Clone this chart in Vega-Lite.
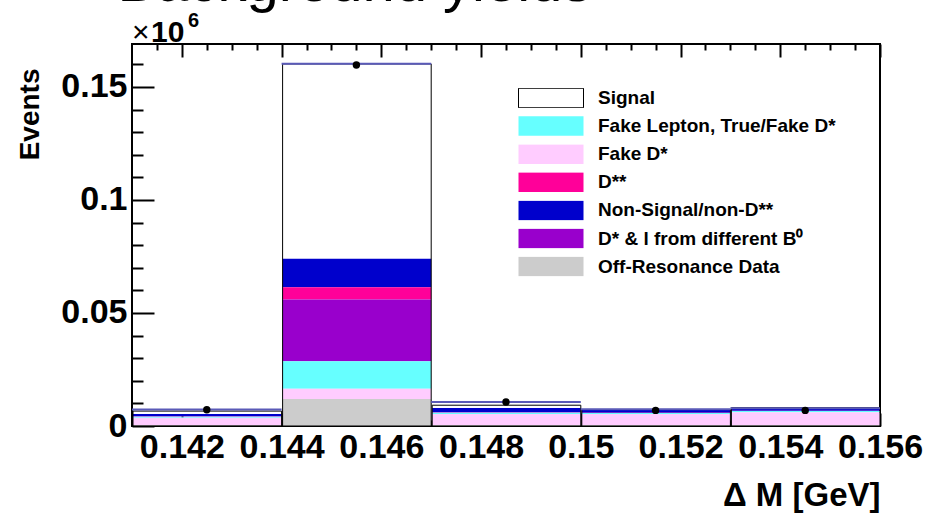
{
  "$schema": "https://vega.github.io/schema/vega-lite/v6.json",
  "width": 748,
  "height": 382,
  "autosize": "none",
  "padding": {"left": 132, "top": 44, "right": 48, "bottom": 88},
  "background": "white",
  "config": {
    "view": {"stroke": "black", "strokeWidth": 2},
    "font": "Liberation Sans",
    "axis": {"grid": false, "domain": false, "tickColor": "black", "tickWidth": 2, "labelColor": "black", "labelFont": "Liberation Sans", "labelFontWeight": "bold", "titleFont": "Liberation Sans", "titleFontWeight": "bold", "titleColor": "black"}
  },
  "datasets": {
    "hist": [
      {"lo": 0.141, "hi": 0.144, "comp": "Signal", "k": 7, "v": 0.0013},
      {"lo": 0.141, "hi": 0.144, "comp": "Non-Signal/non-D**", "k": 6, "v": 0.0010},
      {"lo": 0.141, "hi": 0.144, "comp": "D**", "k": 5, "v": 0.0001},
      {"lo": 0.141, "hi": 0.144, "comp": "D* & l from different B⁰", "k": 4, "v": 0.0001},
      {"lo": 0.141, "hi": 0.144, "comp": "Fake Lepton, True/Fake D*", "k": 3, "v": 0.0004},
      {"lo": 0.141, "hi": 0.144, "comp": "Fake D*", "k": 2, "v": 0.0034},
      {"lo": 0.141, "hi": 0.144, "comp": "Off-Resonance Data", "k": 1, "v": 0.0003},
      {"lo": 0.144, "hi": 0.147, "comp": "Signal", "k": 7, "v": 0.0862},
      {"lo": 0.144, "hi": 0.147, "comp": "Non-Signal/non-D**", "k": 6, "v": 0.0126},
      {"lo": 0.144, "hi": 0.147, "comp": "D**", "k": 5, "v": 0.0054},
      {"lo": 0.144, "hi": 0.147, "comp": "D* & l from different B⁰", "k": 4, "v": 0.0274},
      {"lo": 0.144, "hi": 0.147, "comp": "Fake Lepton, True/Fake D*", "k": 3, "v": 0.0121},
      {"lo": 0.144, "hi": 0.147, "comp": "Fake D*", "k": 2, "v": 0.0046},
      {"lo": 0.144, "hi": 0.147, "comp": "Off-Resonance Data", "k": 1, "v": 0.0119},
      {"lo": 0.147, "hi": 0.150, "comp": "Signal", "k": 7, "v": 0.0012},
      {"lo": 0.147, "hi": 0.150, "comp": "Non-Signal/non-D**", "k": 6, "v": 0.0019},
      {"lo": 0.147, "hi": 0.150, "comp": "D**", "k": 5, "v": 0.0001},
      {"lo": 0.147, "hi": 0.150, "comp": "D* & l from different B⁰", "k": 4, "v": 0.0001},
      {"lo": 0.147, "hi": 0.150, "comp": "Fake Lepton, True/Fake D*", "k": 3, "v": 0.0006},
      {"lo": 0.147, "hi": 0.150, "comp": "Fake D*", "k": 2, "v": 0.0049},
      {"lo": 0.147, "hi": 0.150, "comp": "Off-Resonance Data", "k": 1, "v": 0.0004},
      {"lo": 0.150, "hi": 0.153, "comp": "Signal", "k": 7, "v": 0.0002},
      {"lo": 0.150, "hi": 0.153, "comp": "Non-Signal/non-D**", "k": 6, "v": 0.0012},
      {"lo": 0.150, "hi": 0.153, "comp": "D**", "k": 5, "v": 0.0001},
      {"lo": 0.150, "hi": 0.153, "comp": "D* & l from different B⁰", "k": 4, "v": 0.0001},
      {"lo": 0.150, "hi": 0.153, "comp": "Fake Lepton, True/Fake D*", "k": 3, "v": 0.0004},
      {"lo": 0.150, "hi": 0.153, "comp": "Fake D*", "k": 2, "v": 0.0049},
      {"lo": 0.150, "hi": 0.153, "comp": "Off-Resonance Data", "k": 1, "v": 0.0004},
      {"lo": 0.153, "hi": 0.156, "comp": "Signal", "k": 7, "v": 0.0001},
      {"lo": 0.153, "hi": 0.156, "comp": "Non-Signal/non-D**", "k": 6, "v": 0.0012},
      {"lo": 0.153, "hi": 0.156, "comp": "D**", "k": 5, "v": 0.0001},
      {"lo": 0.153, "hi": 0.156, "comp": "D* & l from different B⁰", "k": 4, "v": 0.0001},
      {"lo": 0.153, "hi": 0.156, "comp": "Fake Lepton, True/Fake D*", "k": 3, "v": 0.0005},
      {"lo": 0.153, "hi": 0.156, "comp": "Fake D*", "k": 2, "v": 0.0057},
      {"lo": 0.153, "hi": 0.156, "comp": "Off-Resonance Data", "k": 1, "v": 0.0004}
    ],
    "bins": [
      {"lo": 0.141, "hi": 0.144, "c": 0.1425, "data": 0.0072, "line": 0.0073},
      {"lo": 0.144, "hi": 0.147, "c": 0.1455, "data": 0.1597, "line": 0.1603},
      {"lo": 0.147, "hi": 0.150, "c": 0.1485, "data": 0.0106, "line": 0.0106},
      {"lo": 0.150, "hi": 0.153, "c": 0.1515, "data": 0.0069, "line": 0.0074},
      {"lo": 0.153, "hi": 0.156, "c": 0.1545, "data": 0.0069, "line": 0.0079}
    ]
  },
  "resolve": {"axis": {"x": "independent", "y": "independent"}},
  "layer": [
    {
      "data": {"name": "hist"},
      "mark": {"type": "bar", "strokeWidth": 0},
      "encoding": {
        "x": {"field": "lo", "type": "quantitative", "bin": "binned",
          "scale": {"domain": [0.141, 0.156], "nice": false, "zero": false},
          "axis": {"orient": "bottom", "values": [0.142, 0.144, 0.146, 0.148, 0.15, 0.152, 0.154, 0.156], "format": "~g", "ticks": false, "labelFontSize": 34, "labelPadding": 4, "labelFlush": false, "title": "Δ M [GeV]", "titleFontSize": 33, "titleAnchor": "end", "titleAlign": "right", "titleX": 748, "titleY": 69, "titleBaseline": "middle"}},
        "x2": {"field": "hi"},
        "y": {"field": "v", "type": "quantitative", "stack": "zero",
          "scale": {"domain": [0, 0.169], "nice": false},
          "axis": {"orient": "left", "values": [0, 0.05, 0.1, 0.15], "format": "~g", "ticks": false, "labelFontSize": 34, "labelPadding": 5, "title": "Events", "titleFontSize": 28, "titleAngle": -90, "titleAlign": "right", "titleBaseline": "middle", "titleX": -102, "titleY": 24}},
        "color": {"field": "comp", "type": "nominal",
          "scale": {"domain": ["Signal", "Fake Lepton, True/Fake D*", "Fake D*", "D**", "Non-Signal/non-D**", "D* & l from different B⁰", "Off-Resonance Data"],
                    "range": ["#ffffff", "#66ffff", "#ffccff", "#ff0099", "#0000cc", "#9900cc", "#cccccc"]},
          "legend": {"orient": "none", "legendX": 386, "legendY": 44, "padding": 0, "title": null,
            "symbolType": "M-1,-0.3H1V0.3H-1Z", "symbolSize": 4225, "clipHeight": 20, "rowPadding": 8.1,
            "labelFont": "Liberation Sans", "labelFontWeight": "bold", "labelFontSize": 19, "labelColor": "black", "labelOffset": 14, "labelLimit": 400,
            "symbolStrokeWidth": 1, "symbolOpacity": 1,
            "encode": {"symbols": {"update": {"stroke": [{"test": "datum.label === 'Signal'", "value": "black"}, {"value": "transparent"}], "strokeWidth": {"value": 1}}}}}},
        "order": {"field": "k", "type": "quantitative"}
      }
    },
    {
      "data": {"name": "hist"},
      "transform": [{"aggregate": [{"op": "sum", "field": "v", "as": "tot"}], "groupby": ["lo", "hi"]}],
      "mark": {"type": "bar", "fill": null, "fillOpacity": 0, "stroke": "black", "strokeWidth": 1},
      "encoding": {
        "x": {"field": "lo", "type": "quantitative", "bin": "binned", "scale": {"domain": [0.141, 0.156], "nice": false, "zero": false},
          "axis": {"orient": "bottom", "values": [0.142, 0.144, 0.146, 0.148, 0.15, 0.152, 0.154, 0.156], "labels": false, "tickSize": -13, "title": null}},
        "x2": {"field": "hi"},
        "y": {"field": "tot", "type": "quantitative", "scale": {"domain": [0, 0.169], "nice": false},
          "axis": {"orient": "left", "values": [0, 0.05, 0.1, 0.15], "labels": false, "tickSize": -22, "title": null}}
      }
    },
    {
      "data": {"name": "bins"},
      "mark": {"type": "rule", "stroke": "#5a5ab8", "strokeWidth": 2},
      "encoding": {
        "x": {"field": "lo", "type": "quantitative", "scale": {"domain": [0.141, 0.156], "nice": false, "zero": false},
          "axis": {"orient": "bottom", "values": [0.1415, 0.1425, 0.143, 0.1435, 0.1445, 0.145, 0.1455, 0.1465, 0.147, 0.1475, 0.1485, 0.149, 0.1495, 0.1505, 0.151, 0.1515, 0.1525, 0.153, 0.1535, 0.1545, 0.155, 0.1555], "labels": false, "tickSize": -6, "title": null}},
        "x2": {"field": "hi"},
        "y": {"field": "line", "type": "quantitative", "scale": {"domain": [0, 0.169], "nice": false},
          "axis": {"orient": "left", "values": [0.01, 0.02, 0.03, 0.04, 0.06, 0.07, 0.08, 0.09, 0.11, 0.12, 0.13, 0.14, 0.16], "labels": false, "tickSize": -11, "title": null}}
      }
    },
    {
      "data": {"name": "bins"},
      "mark": {"type": "circle", "color": "black", "opacity": 1, "size": 55},
      "encoding": {
        "x": {"field": "c", "type": "quantitative", "scale": {"domain": [0.141, 0.156], "nice": false, "zero": false},
          "axis": {"orient": "top", "values": [0.142, 0.144, 0.146, 0.148, 0.15, 0.152, 0.154, 0.156], "labels": false, "tickSize": -13, "title": null}},
        "y": {"field": "data", "type": "quantitative", "scale": {"domain": [0, 0.169], "nice": false}, "axis": null}
      }
    },
    {
      "data": {"name": "bins"},
      "mark": {"type": "circle", "opacity": 0},
      "encoding": {
        "x": {"field": "c", "type": "quantitative", "scale": {"domain": [0.141, 0.156], "nice": false, "zero": false},
          "axis": {"orient": "top", "values": [0.1415, 0.1425, 0.143, 0.1435, 0.1445, 0.145, 0.1455, 0.1465, 0.147, 0.1475, 0.1485, 0.149, 0.1495, 0.1505, 0.151, 0.1515, 0.1525, 0.153, 0.1535, 0.1545, 0.155, 0.1555], "labels": false, "tickSize": -6, "title": null}},
        "y": {"field": "data", "type": "quantitative", "scale": {"domain": [0, 0.169], "nice": false}, "axis": null}
      }
    },
    {
      "data": {"values": [{}]},
      "mark": {"type": "text", "text": "×", "font": "Liberation Sans", "fontWeight": "normal", "fontSize": 30, "align": "left", "baseline": "alphabetic", "dy": -2, "color": "black"},
      "encoding": {
        "x": {"datum": 0.141, "type": "quantitative", "axis": null},
        "y": {"datum": 0.169, "type": "quantitative", "axis": null}
      }
    },
    {
      "data": {"values": [{}]},
      "mark": {"type": "text", "text": "10", "font": "Liberation Sans", "fontWeight": "bold", "fontSize": 30, "align": "left", "baseline": "alphabetic", "dx": 19, "dy": -2, "color": "black"},
      "encoding": {
        "x": {"datum": 0.141, "type": "quantitative", "axis": null},
        "y": {"datum": 0.169, "type": "quantitative", "axis": null}
      }
    },
    {
      "data": {"values": [{}]},
      "mark": {"type": "text", "text": "6", "font": "Liberation Sans", "fontWeight": "bold", "fontSize": 20, "align": "left", "baseline": "alphabetic", "dx": 56, "dy": -17, "color": "black"},
      "encoding": {
        "x": {"datum": 0.141, "type": "quantitative", "axis": null},
        "y": {"datum": 0.169, "type": "quantitative", "axis": null}
      }
    },
    {
      "data": {"values": [{}]},
      "mark": {"type": "text", "text": "Background yields", "font": "Liberation Sans", "fontSize": 58, "align": "center", "baseline": "alphabetic", "dy": -43, "color": "black"},
      "encoding": {
        "x": {"datum": 0.14546, "type": "quantitative", "axis": null},
        "y": {"datum": 0.169, "type": "quantitative", "axis": null}
      }
    }
  ]
}
